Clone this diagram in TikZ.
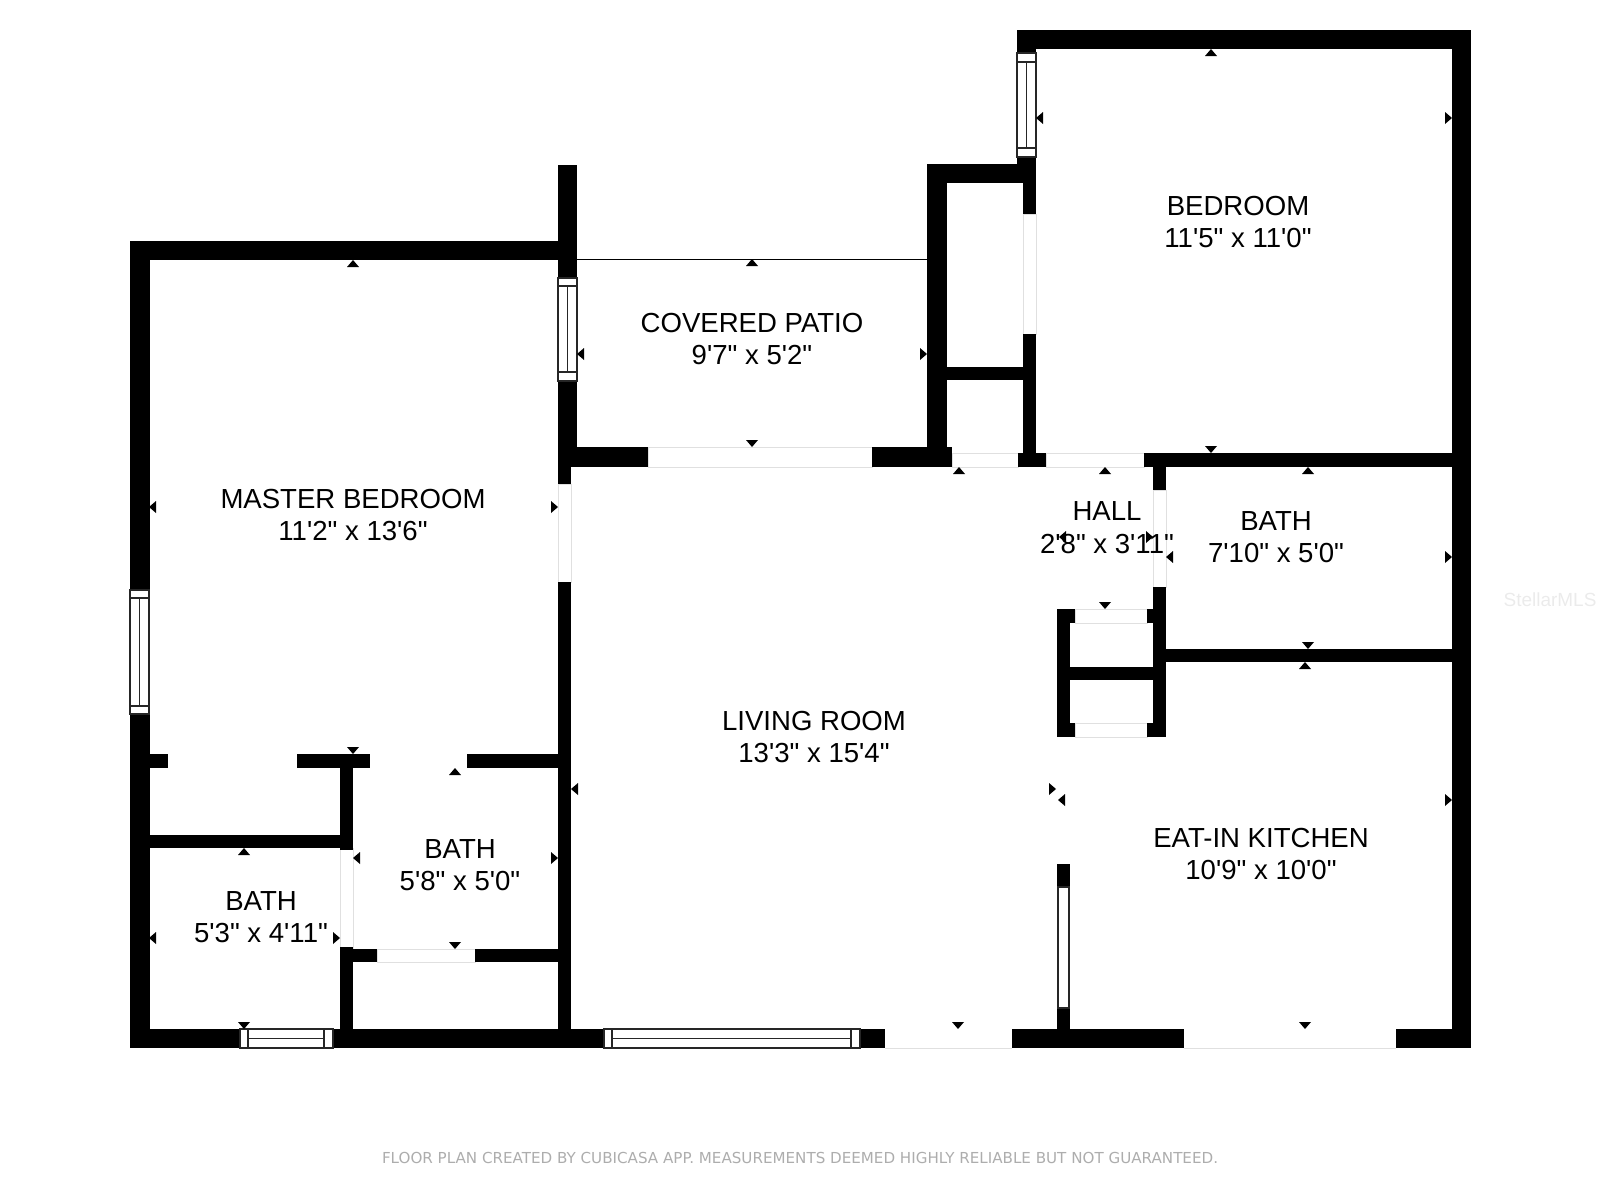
\documentclass[tikz,border=0pt]{standalone}
\usepackage{fontspec}
\newfontfamily\roomfont{Liberation Sans}
\newfontfamily\footfont{DejaVu Sans}
\tikzset{
  wall/.style={fill=black},
  opening/.style={draw=black!12,line width=0.25pt,fill=white},
  glass/.style={draw=black!85,line width=0.32pt,fill=white},
  tick/.style={fill=black},
  room/.style={align=center,inner sep=0pt,font=\roomfont\fontsize{7.84}{9.3}\selectfont},
}
\begin{document}
\begin{tikzpicture}[x=0.01cm,y=-0.01cm]
  \useasboundingbox (0,0) rectangle (1600,1200);
  % door openings
  \foreach \xa/\ya/\xb/\yb in {
    648/447/872/467, 952/453/1018/467, 1046/453/1144/467,
    558/484/571/582, 1023/214/1036/334, 1153/490/1166/587,
    1075/609/1147/623, 1075/723/1147/737, 340/848/353/949, 377/949/475/962}
    \draw[opening] (\xa,\ya) rectangle (\xb,\yb);
  \draw[opening] (885,1048) -- (1012,1048) (1184,1048) -- (1396,1048);
  % walls
  \foreach \xa/\ya/\xb/\yb in {
    130/241/558/260, 130/241/149.5/1048, 558/165/577/278, 558/381/577/467,
    558/467/571/484, 558/582/571/1048, 577/447/648/467, 872/447/952/467,
    927/164/947/453, 927/164/1036/183, 1017/30/1036/53, 1017/157/1036/183,
    1017/30/1471/49, 1452/30/1471/1048, 1023/183/1036/214, 1023/334/1036/453,
    947/367/1023/380, 1018/453/1046/467, 1144/453/1471/467,
    1153/467/1166/490, 1153/587/1166/737, 1166/649/1471/662,
    1057/609/1070/737, 1057/609/1075/623, 1147/609/1153/623,
    1057/667/1153/680, 1057/723/1075/737, 1147/723/1166/737,
    149/754/168/768, 297/754/370/768, 467/754/558/768,
    340/754/353/850, 149/835/353/848, 340/947/353/1048,
    353/949/377/962, 475/949/558/962,
    130/1029/240/1048, 333/1029/604/1048, 860/1029/885/1048,
    1012/1029/1184/1048, 1396/1029/1471/1048,
    1057/864/1070/887, 1057/1008/1070/1029}
    \fill[wall] (\xa,\ya) rectangle (\xb,\yb);
  % windows in upright walls
  \foreach \xa/\ya/\xb/\yb/\ba/\bb in {
    1017/53/1036/157/62/148, 558/278/577/381/286/372, 130/590/149/714/598/706}{
    \draw[glass] (\xa,\ya) rectangle (\xb,\yb);
    \draw[glass] (\xa,\ba) -- (\xb,\ba) (\xa,\bb) -- (\xb,\bb);
    \draw[glass] ({(\xa+\xb)/2},\ba) -- ({(\xa+\xb)/2},\bb);
  }
  % windows in the bottom wall
  \foreach \xa/\xb/\ba/\bb in {240/333/248/324, 604/860/612/851}{
    \draw[glass] (\xa,1029) rectangle (\xb,1048);
    \draw[glass] (\ba,1029) -- (\ba,1048) (\bb,1029) -- (\bb,1048);
    \draw[glass] (\ba,1038.5) -- (\bb,1038.5);
  }
  \draw[glass] (1058,887) rectangle (1069,1008);
  % patio edge
  \draw[black,line width=0.3pt] (577,259.5) -- (927,259.5);
  % measuring ticks
  \foreach \px/\py in {1211/49, 752/259, 353/260, 959/467, 1105/467, 1308/467,
    1305/662, 244/848, 455/768}
    \fill[tick] (\px,\py) -- ++(-6,7) -- ++(12,0) -- cycle;
  \foreach \px/\py in {1211/453, 752/447, 353/754, 1105/609, 1308/649, 244/1029,
    455/949, 958/1029, 1305/1029}
    \fill[tick] (\px,\py) -- ++(-6,-7) -- ++(12,0) -- cycle;
  \foreach \px/\py in {1036/118, 149/507, 577/354, 571/789, 149/938, 353/858,
    1166/557, 1058/800, 1059/537}
    \fill[tick] (\px,\py) -- ++(7,-6) -- ++(0,12) -- cycle;
  \foreach \px/\py in {1452/118, 558/507, 927/354, 558/858, 340/938, 1452/557,
    1452/800, 1056/789, 1153/537}
    \fill[tick] (\px,\py) -- ++(-7,-6) -- ++(0,12) -- cycle;
  % rooms
  \node[room] (masterbed) at (353,515) {MASTER BEDROOM\\11'2" x 13'6"};
  \node[room] (bedroom) at (1238,222) {BEDROOM\\11'5" x 11'0"};
  \node[room] (patio) at (752,339) {COVERED PATIO\\9'7" x 5'2"};
  \node[room] (hall) at (1107,527.5) {HALL\\2'8" x 3'11"};
  \node[room] (bathhall) at (1276,537) {BATH\\7'10" x 5'0"};
  \node[room] (living) at (814,737) {LIVING ROOM\\13'3" x 15'4"};
  \node[room] (kitchen) at (1261,854) {EAT-IN KITCHEN\\10'9" x 10'0"};
  \node[room] (bathmaster) at (460,865) {BATH\\5'8" x 5'0"};
  \node[room] (bathside) at (261,917) {BATH\\5'3" x 4'11"};
  \node[inner sep=0pt,text=black!32,font=\footfont\fontsize{4.3}{5}\selectfont] (credit) at (800,1158)
    {FLOOR PLAN CREATED BY CUBICASA APP. MEASUREMENTS DEEMED HIGHLY RELIABLE BUT NOT GUARANTEED.};
  \node[inner sep=0pt,text=black!8,font=\roomfont\fontsize{5.4}{7}\selectfont] (stamp) at (1550,600) {StellarMLS};
\end{tikzpicture}
\end{document}
